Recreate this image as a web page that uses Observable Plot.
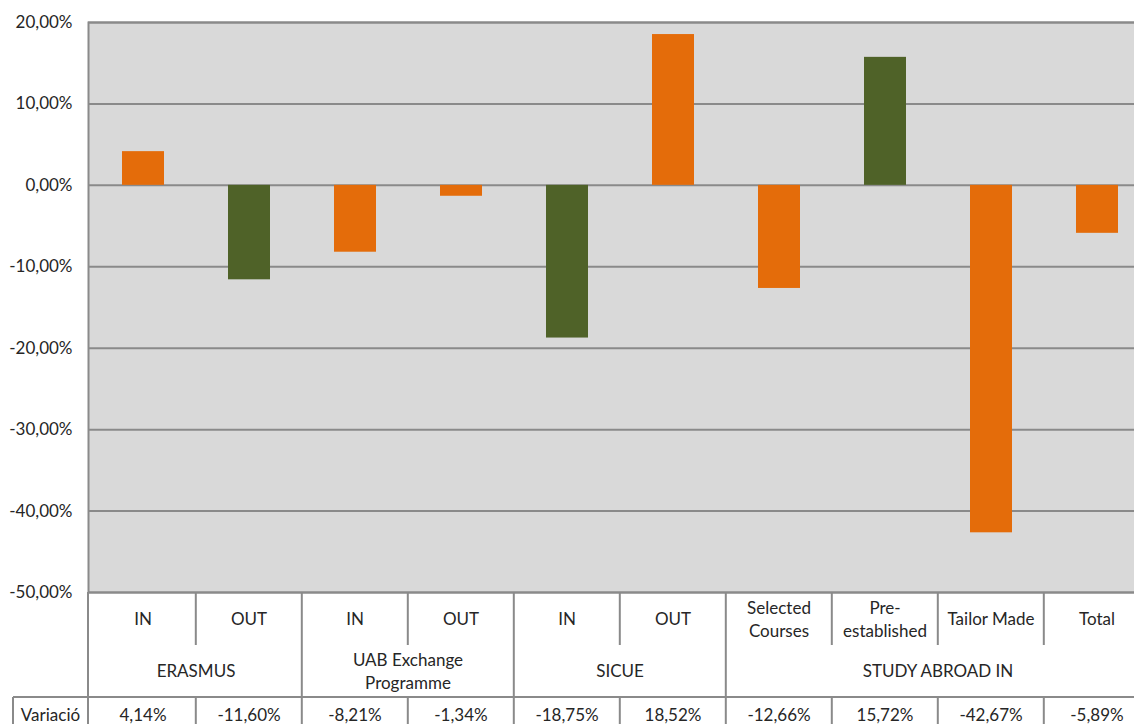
<!DOCTYPE html>
<html>
<head>
<meta charset="utf-8">
<script src="https://cdn.jsdelivr.net/npm/d3@7"></script>
<script src="https://cdn.jsdelivr.net/npm/@observablehq/plot@0.6"></script>
<style>
  html, body { margin: 0; padding: 0; background: #fff; overflow: hidden; }
  #chart { width: 1134px; height: 724px; overflow: hidden; }
  #chart svg { max-width: none !important; }
</style>
</head>
<body>
<div id="chart"></div>
<script>
// ---- Data ----
const categories = ["IN", "OUT", "IN", "OUT", "IN", "OUT", "Selected Courses", "Pre-established", "Tailor Made", "Total"];
const groups = ["ERASMUS", "ERASMUS", "UAB Exchange Programme", "UAB Exchange Programme", "SICUE", "SICUE",
                "STUDY ABROAD IN", "STUDY ABROAD IN", "STUDY ABROAD IN", "STUDY ABROAD IN"];
const values = [4.14, -11.60, -8.21, -1.34, -18.75, 18.52, -12.66, 15.72, -42.67, -5.89];
const yTicks = [20, 10, 0, -10, -20, -30, -40, -50];
const rowLabel = "Variació";

// display line breaks (as in the original table)
const wrapLabel = {
  "Selected Courses": ["Selected", "Courses"],
  "Pre-established": ["Pre-", "established"],
  "UAB Exchange Programme": ["UAB Exchange", "Programme"]
};

const data = categories.map((c, i) => ({key: groups[i] + "|" + c + "|" + i, category: c, group: groups[i], value: values[i], i}));
const greenKeys = new Set([1, 4, 7]); // ERASMUS OUT, SICUE IN, Pre-established

const fmt = v => v.toFixed(2).replace(".", ",") + "%";
const FONT = "Lato, 'Open Sans', sans-serif";
const FS = 17;
const ORANGE = "#E46C0A", GREEN = "#4F6228", GRID = "#8a8a8a", TEXT = "#262626";

const W = 1160, H = 732, ML = 88, MR = 8, MT = 22, MB = 140;

const plot = Plot.plot({
  width: W, height: H,
  marginLeft: ML, marginRight: MR, marginTop: MT, marginBottom: MB,
  style: {fontFamily: FONT, fontSize: FS + "px", color: TEXT, background: "transparent", maxWidth: "none"},
  x: {domain: data.map(d => d.key), paddingInner: 0.6, paddingOuter: 0.3, axis: null},
  y: {domain: [-50, 20], ticks: yTicks, tickFormat: fmt, tickSize: 0, tickPadding: 16, label: null},
  marks: [
    Plot.frame({fill: "#d9d9d9", stroke: "none"}),
    Plot.ruleY(yTicks, {stroke: GRID, strokeWidth: 2}),
    Plot.barY(data, {x: "key", y: "value", fill: d => greenKeys.has(d.i) ? GREEN : ORANGE}),
    Plot.frame({stroke: GRID, strokeWidth: 2, fill: "none"})
  ]
});
plot.style.maxWidth = "none";
plot.setAttribute("width", W);
plot.setAttribute("height", H);

// ---- Data table below the chart, positioned with the plot's own scales ----
const svg = d3.select(plot);
const xs = plot.scale("x"), ys = plot.scale("y");
const n = data.length;
const step = (xs.range[1] - xs.range[0]) / n;
const bw = xs.bandwidth != null ? xs.bandwidth : step * 0.4;
const cx = k => xs.apply(k) + bw / 2;
const yTop = ys.apply(-50);
const catBottom = yTop + 53;
const grpBottom = yTop + 105;
const bottom = H;
const leftLabelX = 13;

const g = svg.append("g").attr("font-family", FONT).attr("font-size", FS).attr("fill", TEXT);
const line = (x1, y1, x2, y2) => g.append("line").attr("x1", x1).attr("y1", y1).attr("x2", x2).attr("y2", y2)
  .attr("stroke", GRID).attr("stroke-width", 2);

// left axis line through the table
line(ML, yTop, ML, bottom);
// boundaries between categories
data.forEach((d, i) => {
  if (i === 0) return;
  const bx = cx(d.key) - step / 2;
  if (groups[i] !== groups[i - 1]) {
    line(bx, yTop, bx, bottom);
  } else {
    line(bx, yTop, bx, catBottom);
    line(bx, grpBottom, bx, bottom);
  }
});
// right boundary
line(cx(data[n - 1].key) + step / 2, yTop, cx(data[n - 1].key) + step / 2, bottom);
// horizontal line above data row + row label cell
line(leftLabelX, grpBottom, W, grpBottom);
line(leftLabelX, grpBottom, leftLabelX, bottom);

function multiText(x, yc, lines) {
  const lh = 23;
  const t = g.append("text").attr("text-anchor", "middle").attr("dominant-baseline", "central");
  lines.forEach((s, j) => {
    t.append("tspan").attr("x", x).attr("y", yc + (j - (lines.length - 1) / 2) * lh).text(s);
  });
}

// category row
data.forEach(d => multiText(cx(d.key), yTop + 26, wrapLabel[d.category] || [d.category]));
// group row
const groupNames = [...new Set(groups)];
groupNames.forEach(gn => {
  const ds = data.filter(d => d.group === gn);
  const x0 = cx(ds[0].key) - step / 2, x1 = cx(ds[ds.length - 1].key) + step / 2;
  multiText((x0 + x1) / 2, yTop + 78, wrapLabel[gn] || [gn]);
});
// data row
const yRow = grpBottom + 17;
g.append("text").attr("x", (leftLabelX + ML) / 2).attr("y", yRow).attr("text-anchor", "middle")
  .attr("dominant-baseline", "central").text(rowLabel);
data.forEach(d => g.append("text").attr("x", cx(d.key)).attr("y", yRow).attr("text-anchor", "middle")
  .attr("dominant-baseline", "central").text(fmt(d.value)));

document.getElementById("chart").appendChild(plot);
</script>
</body>
</html>
